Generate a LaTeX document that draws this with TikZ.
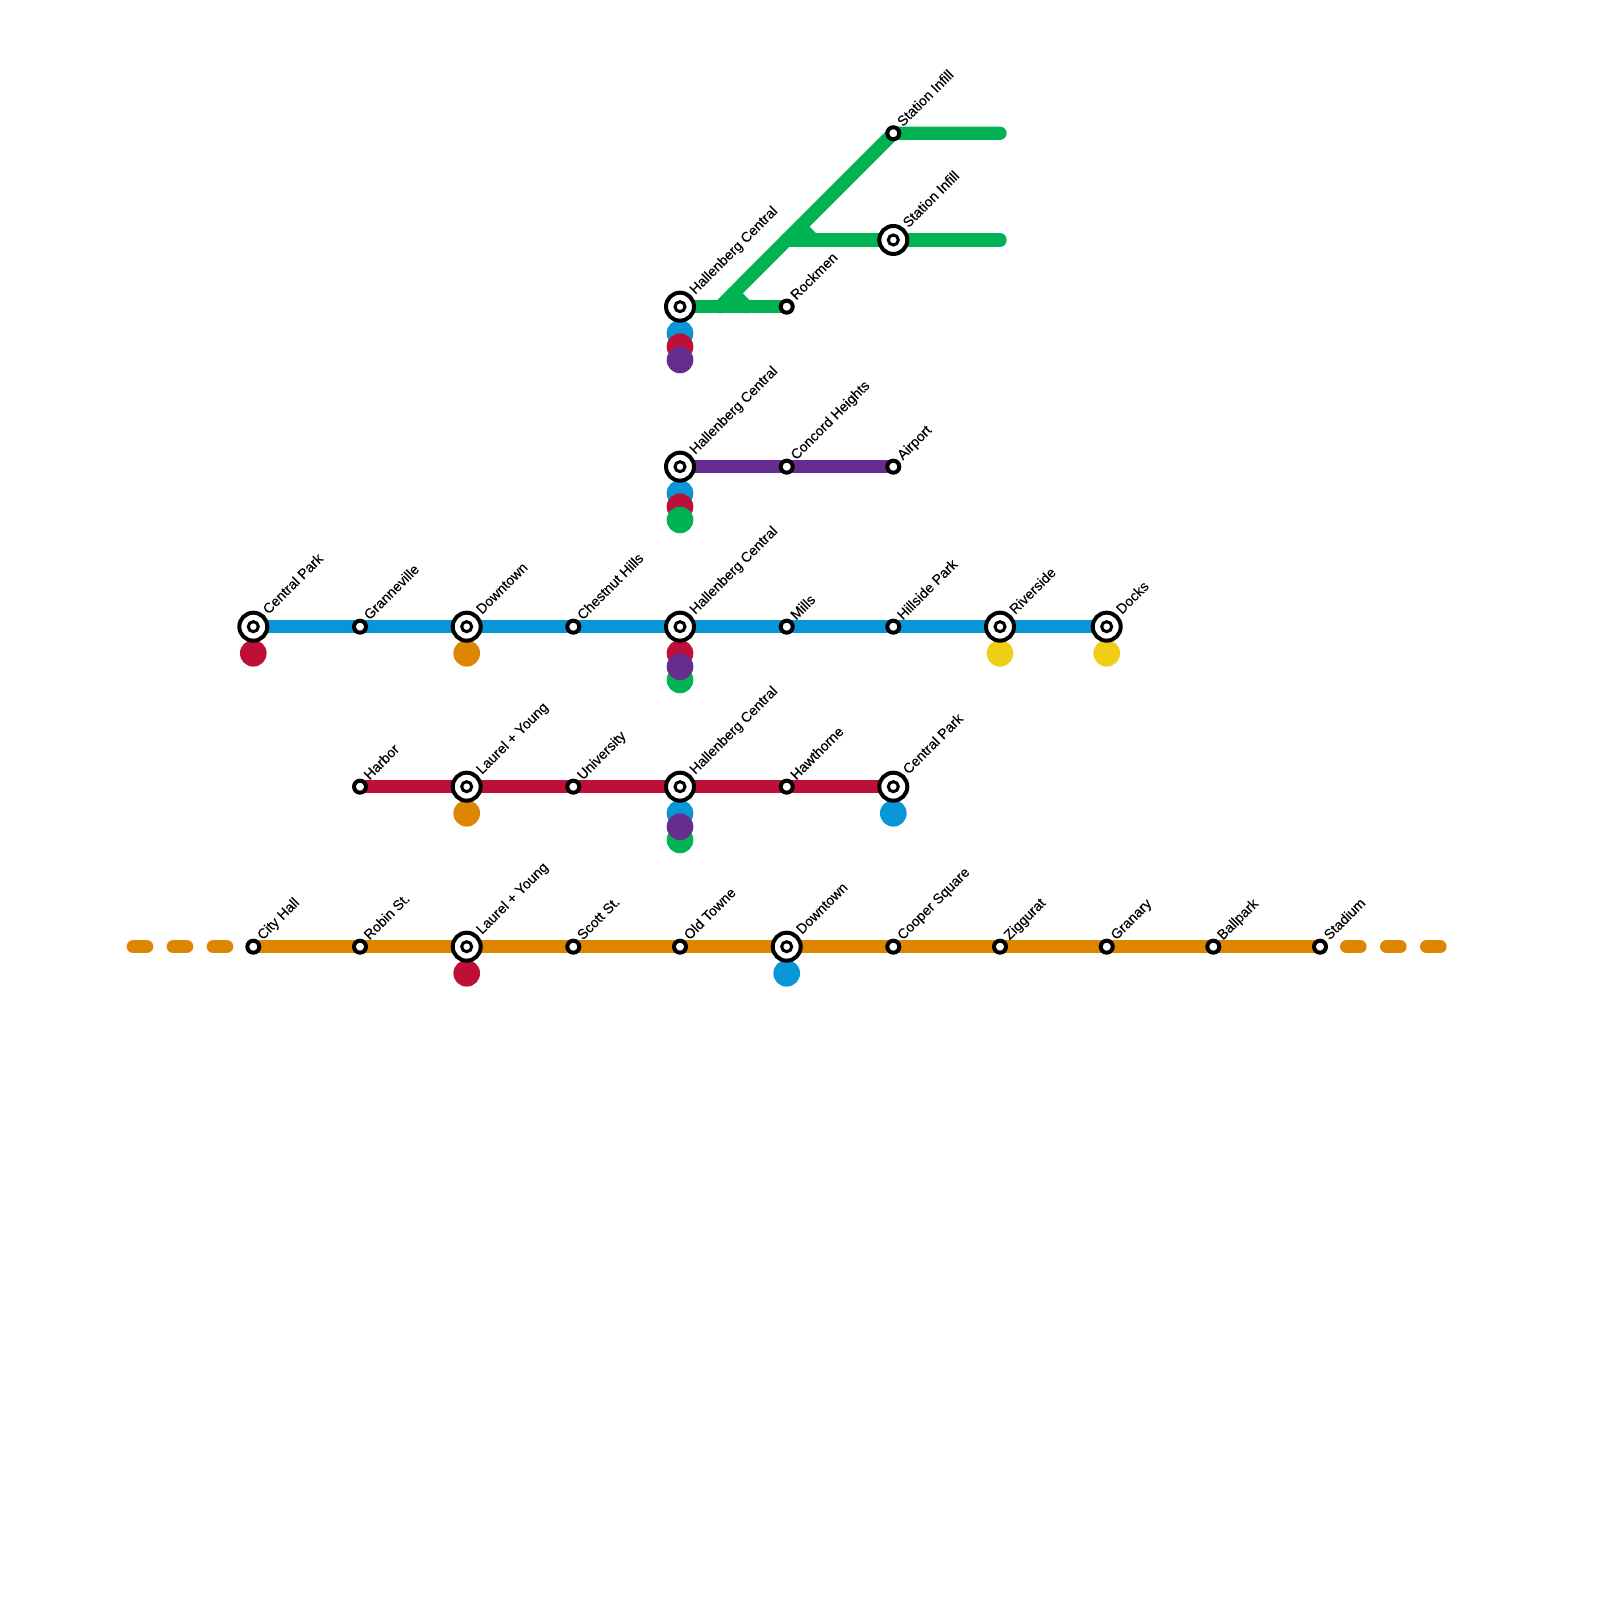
\documentclass[tikz,border=0pt]{standalone}
\usepackage{fontspec}
\setmainfont{Liberation Sans}
\newfontfamily\stopfont[FakeBold=0.3]{Liberation Sans}
\usetikzlibrary{backgrounds}
\definecolor{lineblue}{HTML}{0896D7}
\definecolor{linered}{HTML}{BD1038}
\definecolor{linepurple}{HTML}{662C90}
\definecolor{linegreen}{HTML}{00B251}
\definecolor{lineorange}{HTML}{DF8600}
\definecolor{lineyellow}{HTML}{F0CE15}
\begin{document}
\begin{tikzpicture}[
    x=1cm, y=1cm,
    stop/.style={draw=black, fill=white, circle, line width=0.04cm, inner sep=0pt, minimum size=0.12cm},
    hub/.style={draw=black, fill=white, circle, line width=0.04cm, inner sep=0pt, minimum size=0.28cm,
        path picture={\draw[line width=0.03cm] (path picture bounding box.center) circle (0.05cm);}},
    stopname/.style={xshift=0.035cm, rotate=45, anchor=base west, inner sep=0pt, font=\stopfont\fontsize{4pt}{4.5pt}\selectfont},
    transfer/.style={circle, inner sep=0pt, minimum size=0.2667cm},
    route/.style={line width=0.1333cm, line cap=round, line join=round},
    routedash/.style={route, dash pattern=on 0.1333cm off 0.2667cm}
]
\useasboundingbox (0,0) rectangle (16,16);

% blue
\node[hub] (centralpark) at (2.533,9.733) {};
\node[stop] (granneville) at (3.6,9.733) {};
\node[hub] (downtown) at (4.667,9.733) {};
\node[stop] (chestnut) at (5.733,9.733) {};
\node[hub] (hallenbergb) at (6.8,9.733) {};
\node[stop] (mills) at (7.867,9.733) {};
\node[stop] (hillside) at (8.933,9.733) {};
\node[hub] (riverside) at (10,9.733) {};
\node[hub] (docks) at (11.067,9.733) {};

% red
\node[stop] (harbor) at (3.6,8.133) {};
\node[hub] (laurelr) at (4.667,8.133) {};
\node[stop] (university) at (5.733,8.133) {};
\node[hub] (hallenbergr) at (6.8,8.133) {};
\node[stop] (hawthorne) at (7.867,8.133) {};
\node[hub] (centralparkr) at (8.933,8.133) {};

% orange
\node[stop] (cityhall) at (2.533,6.533) {};
\node[stop] (robin) at (3.6,6.533) {};
\node[hub] (laurelo) at (4.667,6.533) {};
\node[stop] (scott) at (5.733,6.533) {};
\node[stop] (oldtowne) at (6.8,6.533) {};
\node[hub] (downtowno) at (7.867,6.533) {};
\node[stop] (cooper) at (8.933,6.533) {};
\node[stop] (ziggurat) at (10,6.533) {};
\node[stop] (granary) at (11.067,6.533) {};
\node[stop] (ballpark) at (12.133,6.533) {};
\node[stop] (stadium) at (13.2,6.533) {};
\coordinate (orangewest) at (1.333,6.533);
\coordinate (orangeeast) at (14.4,6.533);

% purple
\node[hub] (hallenbergp) at (6.8,11.333) {};
\node[stop] (concord) at (7.867,11.333) {};
\node[stop] (airport) at (8.933,11.333) {};

% green
\node[hub] (hallenbergg) at (6.8,12.933) {};
\node[stop] (rockmen) at (7.867,12.933) {};
\node[stop] (infilla) at (8.933,14.667) {};
\node[hub] (infillb) at (8.933,13.6) {};
\coordinate (junca) at (7.2,12.933);
\coordinate (juncb) at (7.867,13.6);
\coordinate (stubas) at (7.333,13.067);
\coordinate (stubae) at (7.467,12.933);
\coordinate (stubbs) at (8,13.733);
\coordinate (stubbe) at (8.133,13.6);
\coordinate (greenenda) at (10,14.667);
\coordinate (greenendb) at (10,13.6);

\begin{scope}[on background layer]
\node[transfer, fill=lineblue] (xgb) at (6.8,12.667) {};
\node[transfer, fill=linered] (xgr) at (6.8,12.533) {};
\node[transfer, fill=linepurple] (xgp) at (6.8,12.4) {};

\node[transfer, fill=lineblue] (xpb) at (6.8,11.067) {};
\node[transfer, fill=linered] (xpr) at (6.8,10.933) {};
\node[transfer, fill=linegreen] (xpg) at (6.8,10.8) {};

\node[transfer, fill=linered] (xbr) at (6.8,9.467) {};
\node[transfer, fill=linegreen] (xbg) at (6.8,9.2) {};
\node[transfer, fill=linepurple] (xbp) at (6.8,9.333) {};

\node[transfer, fill=lineblue] (xrb) at (6.8,7.867) {};
\node[transfer, fill=linegreen] (xrg) at (6.8,7.6) {};
\node[transfer, fill=linepurple] (xrp) at (6.8,7.733) {};

\node[transfer, fill=linered] (xcentral) at (2.533,9.467) {};
\node[transfer, fill=lineorange] (xdown) at (4.667,9.467) {};
\node[transfer, fill=lineyellow] (xriver) at (10,9.467) {};
\node[transfer, fill=lineyellow] (xdocks) at (11.067,9.467) {};
\node[transfer, fill=lineorange] (xlaurel) at (4.667,7.867) {};
\node[transfer, fill=lineblue] (xcpark) at (8.933,7.867) {};
\node[transfer, fill=linered] (xlaurelo) at (4.667,6.267) {};
\node[transfer, fill=lineblue] (xdowno) at (7.867,6.267) {};

\draw[route, lineblue] (centralpark.center) -- (docks.center);
\draw[route, linered] (harbor.center) -- (centralparkr.center);
\draw[route, lineorange] (cityhall.center) -- (stadium.center);
\draw[routedash, lineorange] (orangewest) -- (cityhall.center);
\draw[routedash, lineorange] (orangeeast) -- (stadium.center);
\draw[route, linepurple] (hallenbergp.center) -- (airport.center);

\draw[route, linegreen] (hallenbergg.center) -- (rockmen.center);
\draw[route, linegreen] (junca) -- (infilla.center) -- (greenenda);
\draw[route, linegreen] (juncb) -- (infillb.center) -- (greenendb);
\draw[route, linegreen] (stubas) -- (stubae);
\draw[route, linegreen] (stubbs) -- (stubbe);
\end{scope}

\node[stopname] (tcentralpark) at (centralpark.north east) {Central Park};
\node[stopname] (tgranneville) at (granneville.north east) {Granneville};
\node[stopname] (tdowntown) at (downtown.north east) {Downtown};
\node[stopname] (tchestnut) at (chestnut.north east) {Chestnut Hills};
\node[stopname] (thallenbergb) at (hallenbergb.north east) {Hallenberg Central};
\node[stopname] (tmills) at (mills.north east) {Mills};
\node[stopname] (thillside) at (hillside.north east) {Hillside Park};
\node[stopname] (triverside) at (riverside.north east) {Riverside};
\node[stopname] (tdocks) at (docks.north east) {Docks};

\node[stopname] (tharbor) at (harbor.north east) {Harbor};
\node[stopname] (tlaurelr) at (laurelr.north east) {Laurel + Young};
\node[stopname] (tuniversity) at (university.north east) {University};
\node[stopname] (thallenbergr) at (hallenbergr.north east) {Hallenberg Central};
\node[stopname] (thawthorne) at (hawthorne.north east) {Hawthorne};
\node[stopname] (tcentralparkr) at (centralparkr.north east) {Central Park};

\node[stopname] (tcityhall) at (cityhall.north east) {City Hall};
\node[stopname] (trobin) at (robin.north east) {Robin St.};
\node[stopname] (tlaurelo) at (laurelo.north east) {Laurel + Young};
\node[stopname] (tscott) at (scott.north east) {Scott St.};
\node[stopname] (toldtowne) at (oldtowne.north east) {Old Towne};
\node[stopname] (tdowntowno) at (downtowno.north east) {Downtown};
\node[stopname] (tcooper) at (cooper.north east) {Cooper Square};
\node[stopname] (tziggurat) at (ziggurat.north east) {Ziggurat};
\node[stopname] (tgranary) at (granary.north east) {Granary};
\node[stopname] (tballpark) at (ballpark.north east) {Ballpark};
\node[stopname] (tstadium) at (stadium.north east) {Stadium};

\node[stopname] (thallenbergp) at (hallenbergp.north east) {Hallenberg Central};
\node[stopname] (tconcord) at (concord.north east) {Concord Heights};
\node[stopname] (tairport) at (airport.north east) {Airport};

\node[stopname] (thallenbergg) at (hallenbergg.north east) {Hallenberg Central};
\node[stopname] (trockmen) at (rockmen.north east) {Rockmen};
\node[stopname] (tinfilla) at (infilla.north east) {Station Infill};
\node[stopname] (tinfillb) at (infillb.north east) {Station Infill};

\end{tikzpicture}
\end{document}
